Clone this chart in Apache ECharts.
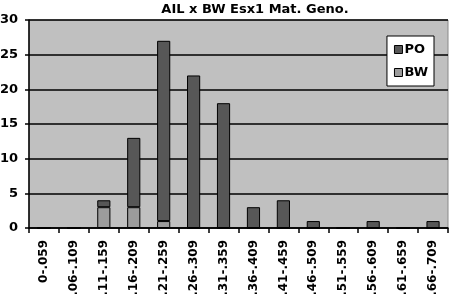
<!DOCTYPE html>
<html><head><meta charset="utf-8">
<script src="https://cdn.jsdelivr.net/npm/echarts@6/dist/echarts.min.js"></script>
<style>html,body{margin:0;padding:0;background:#fff}#c{width:450px;height:294px}</style>
</head><body><div id="c"></div>
<script>
var categories = ["0-.059", ".06-.109", ".11-.159", ".16-.209", ".21-.259", ".26-.309", ".31-.359", ".36-.409", ".41-.459", ".46-.509", ".51-.559", ".56-.609", ".61-.659", ".66-.709"];
var bwValues = [0, 0, 3, 3, 1, 0, 0, 0, 0, 0, 0, 0, 0, 0];
var poValues = [0, 0, 1, 10, 26, 22, 18, 3, 4, 1, 0, 1, 0, 1];
var yTicks = [0, 5, 10, 15, 20, 25, 30];

var chart = echarts.init(document.getElementById('c'), null, {renderer: 'canvas'});
var font = '"DejaVu Sans", Verdana, sans-serif';
chart.setOption({
  animation: false,
  backgroundColor: '#fff',
  title: {
    text: 'AIL x BW Esx1 Mat. Geno.',
    left: 250, top: -2, textAlign: 'center',
    textStyle: {fontFamily: font, fontWeight: 'bold', fontSize: 13, color: '#000'}
  },
  legend: {
    data: ['PO', 'BW'],
    orient: 'vertical',
    right: 16, top: 36,
    backgroundColor: '#fff', borderColor: '#000', borderWidth: 1,
    padding: [7, 6, 7, 7],
    itemGap: 10, itemWidth: 8, itemHeight: 8,
    icon: 'rect',
    itemStyle: {borderColor: '#000', borderWidth: 1},
    textStyle: {fontFamily: font, fontWeight: 'bold', fontSize: 13, color: '#000', padding: [0, 0, 0, -3]}
  },
  grid: {
    left: 29, right: 2, top: 20, bottom: 66,
    outerBoundsMode: 'none', containLabel: false,
    show: true, backgroundColor: '#c0c0c0', borderColor: '#8a8a8a', borderWidth: 1
  },
  xAxis: {
    type: 'category', data: categories,
    axisLine: {lineStyle: {color: '#000', width: 1.5}},
    axisTick: {show: true, alignWithLabel: false, length: 5, lineStyle: {color: '#000', width: 1.5}},
    axisLabel: {rotate: 90, interval: 0, margin: 12, fontFamily: font, fontWeight: 'bold', fontSize: 12, color: '#000'}
  },
  yAxis: {
    type: 'value', min: 0, max: 30, interval: 5,
    axisLine: {show: true, lineStyle: {color: '#000', width: 1.5}},
    axisTick: {show: true, length: 4, lineStyle: {color: '#000', width: 1.5}},
    axisLabel: {margin: 11, fontFamily: font, fontWeight: 'bold', fontSize: 13, color: '#000',
      formatter: function (v) { return yTicks.indexOf(v) >= 0 ? String(v) : ''; }},
    splitLine: {show: true, lineStyle: {color: '#000', width: 1.5}}
  },
  series: [
    {name: 'BW', type: 'bar', stack: 'a', data: bwValues, barWidth: '44%',
      itemStyle: {color: '#9c9c9c', borderColor: '#000', borderWidth: 1}},
    {name: 'PO', type: 'bar', stack: 'a', data: poValues, barWidth: '44%',
      itemStyle: {color: '#575757', borderColor: '#000', borderWidth: 1}}
  ]
});
</script></body></html>
